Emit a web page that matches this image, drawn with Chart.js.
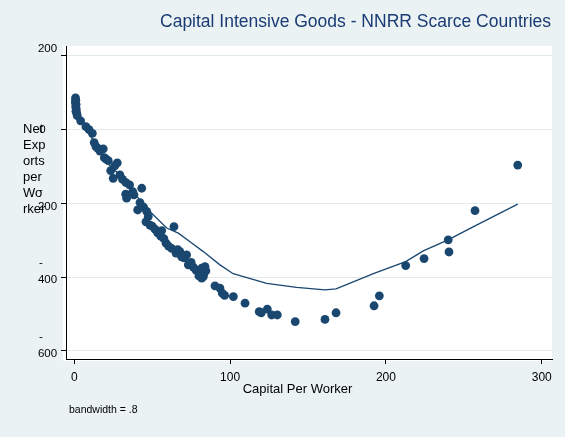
<!DOCTYPE html>
<html>
<head>
<meta charset="utf-8">
<script src="https://cdn.jsdelivr.net/npm/chart.js@4/dist/chart.umd.min.js"></script>
<style>
  html, body { margin: 0; padding: 0; background: #eaf2f3; }
  #wrap { width: 565px; height: 437px; }
</style>
</head>
<body>
<div id="wrap"><canvas id="c" width="565" height="437"></canvas></div>
<script>
// Capital per worker (x) and net exports per worker (y), one entry per country-industry
const capitalPerWorker = [
  0.8, 1.0, 0.7, 1.2, 0.9, 1.3, 1.1, 1.6, 1.9,
  4.1, 7.5, 9.5, 11.6, 12.8, 13.9, 15.0, 16.5, 18.6, 19.3, 20.5, 21.8, 27.6, 23.4, 26.0,
  25.0, 29.3, 31.0, 33.2, 33.0, 35.5, 37.5, 38.3, 43.3, 33.6, 42.2, 40.7, 44.5, 46.5,
  47.5, 46.0, 48.6, 50.0, 51.8, 53.5, 56.1, 55.5, 57.5, 64.0, 58.9, 60.5, 62.5, 65.3,
  66.5, 67.8, 72.1, 68.9, 70.5, 73.2, 75.0, 76.4, 78.1, 79.5, 81.8, 83.9, 84.5, 80.7,
  83.0, 80.0, 82.8, 81.8, 90.3, 93.5, 95.0, 96.5, 102.1, 109.6, 118.7, 120.0, 123.9,
  126.7, 130.3, 141.8, 160.9, 168.0, 192.4, 195.8, 212.7, 224.5, 240.0, 240.5, 257.2, 284.6
];
const netExports = [
  86, 80, 74, 68, 62, 56, 50, 44, 38,
  24, 8, 0, -10, -35, -46, -50, -58, -52, -76, -80, -84, -90, -111, -98,
  -132, -123, -135, -144, -175, -150, -168, -177, -159, -186, -198, -218, -210, -222,
  -236, -250, -259, -262, -270, -280, -274, -289, -296, -263, -308, -316, -322, -335,
  -326, -331, -340, -345, -348, -367, -360, -373, -381, -384, -376, -372, -383, -390,
  -393, -397, -399, -403, -424, -430, -444, -450, -453, -471, -494, -497, -487,
  -503, -503, -521, -515, -497, -478, -451, -369, -350, -299, -332, -220, -96
];

// Locally weighted (lowess) fit, bandwidth .8
const lowessCapital = [0.5, 3.7, 10, 16.5, 22.9, 32.5, 44.3, 50.7, 59.3, 66.8, 74.3, 82.8,
  93.5, 102, 123.5, 142.7, 160.9, 168, 192.4, 212.7, 224, 239.9, 257.2, 284.6];
const lowessFit = [75, 32, -14, -60, -98, -136, -204, -231, -267, -281, -304, -331,
  -367, -391, -417, -428, -435, -432, -390, -358, -329, -299, -261, -202];

const xTicks = [0, 100, 200, 300];
const yTicks = [200, 0, -200, -400, -600];

const chartTitle = 'Capital Intensive Goods - NNRR Scarce Countries';
const xTitle = 'Capital Per Worker';
const yTitleLines = ['Net', 'Exp', 'orts', 'per', 'Wo', 'rker'];
const noteText = 'bandwidth = .8';

const navy = '#1a476f';
const FONT = "'Liberation Sans', Arial, Helvetica, sans-serif";

const points = capitalPerWorker.map((x, i) => ({ x, y: netExports[i] }));
const fitLine = lowessCapital.map((x, i) => ({ x, y: lowessFit[i] }));

// White plot region behind the axes
const plotRegion = {
  id: 'plotRegion',
  beforeDraw(chart) {
    const { ctx, chartArea: a } = chart;
    ctx.save();
    ctx.fillStyle = '#ffffff';
    ctx.fillRect(a.left - 3, a.top, a.right - a.left + 3, a.bottom - a.top + 2);
    ctx.restore();
  }
};

// Titles, wrapped y labels and the bandwidth note
const annotations = {
  id: 'annotations',
  afterDraw(chart) {
    const { ctx } = chart;
    const ys = chart.scales.y;
    ctx.save();
    ctx.fillStyle = '#1a3b73';
    ctx.font = '17.5px ' + FONT;
    ctx.textAlign = 'right';
    ctx.textBaseline = 'middle';
    ctx.fillText(chartTitle, 551, 22);

    ctx.fillStyle = '#000';
    ctx.font = '13px ' + FONT;
    ctx.textAlign = 'left';
    yTitleLines.forEach((t, i) => ctx.fillText(t, 23, 129 + i * 16));

    ctx.font = '11.5px ' + FONT;
    yTicks.forEach(v => {
      const py = ys.getPixelForValue(v);
      const digits = String(Math.abs(v));
      if (v < 0) {
        ctx.textAlign = 'left';
        ctx.fillText('-', 39, py - 14);
        ctx.textAlign = 'center';
        ctx.fillText(digits, 47.5, py + 3);
      } else if (v === 0) {
        ctx.textAlign = 'center';
        ctx.fillText(digits, 42.5, py);
      } else {
        ctx.textAlign = 'center';
        ctx.fillText(digits, 47.5, py - 7);
      }
    });

    ctx.font = '13px ' + FONT;
    ctx.textAlign = 'center';
    ctx.fillText(xTitle, 297.5, 389);

    ctx.font = '10.5px ' + FONT;
    ctx.textAlign = 'left';
    ctx.fillText(noteText, 69, 410);
    ctx.restore();
  }
};

new Chart(document.getElementById('c'), {
  type: 'scatter',
  data: {
    datasets: [
      {
        type: 'scatter',
        data: points,
        backgroundColor: navy,
        borderColor: navy,
        borderWidth: 0,
        pointRadius: 4.4,
        pointHoverRadius: 4.4
      },
      {
        type: 'line',
        data: fitLine,
        borderColor: navy,
        borderWidth: 1.3,
        pointRadius: 0,
        fill: false,
        tension: 0
      }
    ]
  },
  options: {
    responsive: false,
    devicePixelRatio: 1,
    animation: false,
    events: [],
    layout: { padding: { left: 0, right: 13, top: 46, bottom: 0 } },
    plugins: {
      legend: { display: false },
      tooltip: { enabled: false },
      title: { display: false }
    },
    scales: {
      x: {
        type: 'linear',
        min: -5.3,
        max: 306.6,
        afterBuildTicks: s => { s.ticks = xTicks.map(v => ({ value: v })); },
        afterFit: s => { s.height = 78; },
        grid: { drawOnChartArea: false, drawTicks: true, tickLength: 5, tickColor: '#000' },
        border: { display: true, color: '#000', width: 1 },
        ticks: { color: '#000', font: { family: FONT, size: 12 }, padding: 6, maxRotation: 0 }
      },
      y: {
        type: 'linear',
        min: -622.5,
        max: 227.1,
        afterBuildTicks: s => { s.ticks = yTicks.map(v => ({ value: v })); },
        afterFit: s => { s.width = 66; },
        grid: { color: '#e1ebee', lineWidth: 1, drawTicks: true, tickLength: 5, tickColor: '#000' },
        border: { display: true, color: '#000', width: 1 },
        ticks: { display: false }
      }
    }
  },
  plugins: [plotRegion, annotations]
});
</script>
</body>
</html>
